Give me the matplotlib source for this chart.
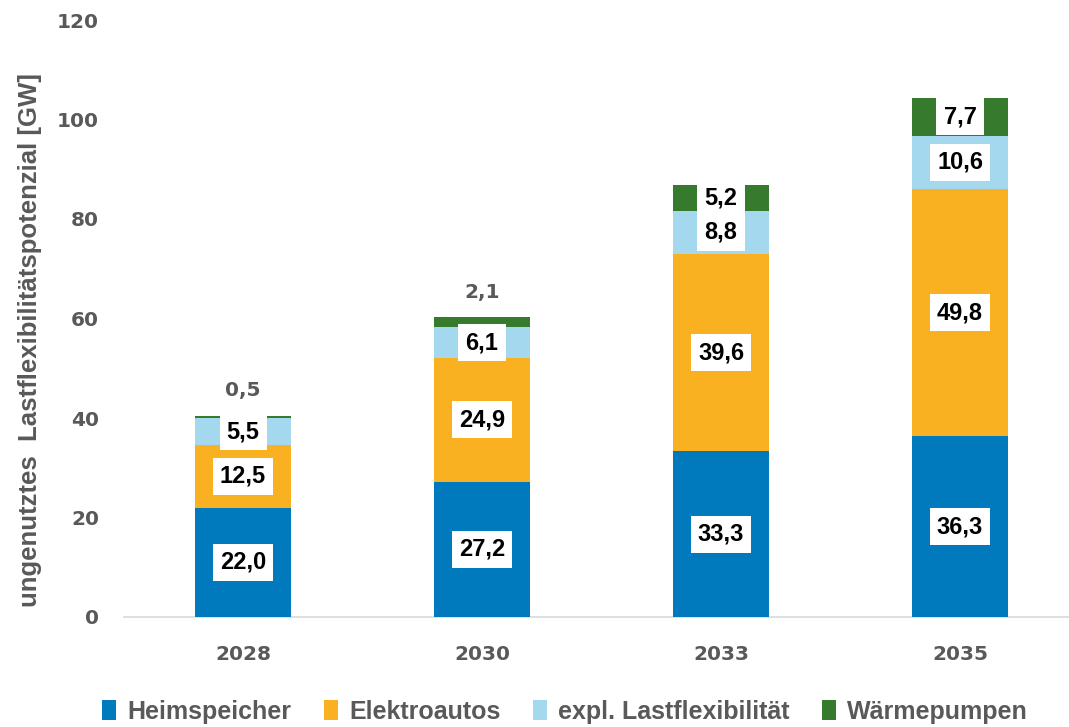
import numpy as np
import matplotlib
matplotlib.use("Agg")
from matplotlib import pyplot as plt

years = ["2028", "2030", "2033", "2035"]
heimspeicher = [22.0, 27.2, 33.3, 36.3]
elektroautos = [12.5, 24.9, 39.6, 49.8]
lastflex = [5.5, 6.1, 8.8, 10.6]
waermepumpen = [0.5, 2.1, 5.2, 7.7]

series_names = ["Heimspeicher", "Elektroautos", "expl. Lastflexibilität", "Wärmepumpen"]
colors = ["#007ABD", "#F9B021", "#A4D8EF", "#357A2D"]
gray = "#595959"

plt.rcParams["font.family"] = ["Liberation Sans", "DejaVu Sans"]

fig = plt.figure(figsize=(10.69, 7.27), dpi=100)
ax = fig.add_axes([124 / 1069, 110 / 727, (1069 - 124) / 1069, (617 - 20) / 727])

x = np.arange(len(years))
width = 0.405
series = [heimspeicher, elektroautos, lastflex, waermepumpen]
bottom = np.zeros(len(years))
box = dict(boxstyle="square,pad=0.3", fc="white", ec="none")

for i, (vals, name, col) in enumerate(zip(series, series_names, colors)):
    vals = np.array(vals)
    ax.bar(x, vals, width, bottom=bottom, color=col, label=name, zorder=2)
    for j, v in enumerate(vals):
        lbl = f"{v:.1f}".replace(".", ",")
        if v < 3:
            # small segments: label above the bar, no box
            ax.text(x[j], bottom[j] + v + 5, lbl, ha="center", va="center",
                    fontsize=14.5, fontweight="bold", color=gray, family="DejaVu Sans", zorder=3)
        else:
            ax.text(x[j], bottom[j] + v / 2, lbl, ha="center", va="center",
                    fontsize=17, fontweight="bold", color="black", bbox=box, zorder=3)
    bottom = bottom + vals

ax.set_xlim(-0.498, 3.456)
ax.set_ylim(0, 120)
ax.set_yticks(range(0, 121, 20))
ax.set_xticks(x)
ax.set_xticklabels(years)
for s in ax.spines.values():
    s.set_visible(False)
ax.spines["bottom"].set_visible(True)
ax.spines["bottom"].set_color("#D9D9D9")
ax.spines["bottom"].set_linewidth(1.2)
ax.spines["bottom"].set_zorder(1)
ax.tick_params(axis="both", length=0, labelsize=14.5, labelcolor=gray)
ax.tick_params(axis="y", pad=18)
ax.tick_params(axis="x", pad=20)
for t in ax.get_xticklabels() + ax.get_yticklabels():
    t.set_fontweight("bold")
    t.set_family("DejaVu Sans")

fig.text(30 / 1069, 1 - 340 / 727, "ungenutztes  Lastflexibilitätspotenzial [GW]", rotation=90,
         ha="center", va="center", fontsize=18.5, fontweight="bold", color=gray)

leg = fig.legend(loc="center", bbox_to_anchor=(565 / 1069, 1 - 712 / 727), ncol=4, frameon=False,
                 fontsize=18, handlelength=0.55, handleheight=0.85, handletextpad=0.45,
                 columnspacing=1.3)
for t in leg.get_texts():
    t.set_fontweight("bold")
    t.set_color(gray)

fig.savefig("out.png", dpi=100)
